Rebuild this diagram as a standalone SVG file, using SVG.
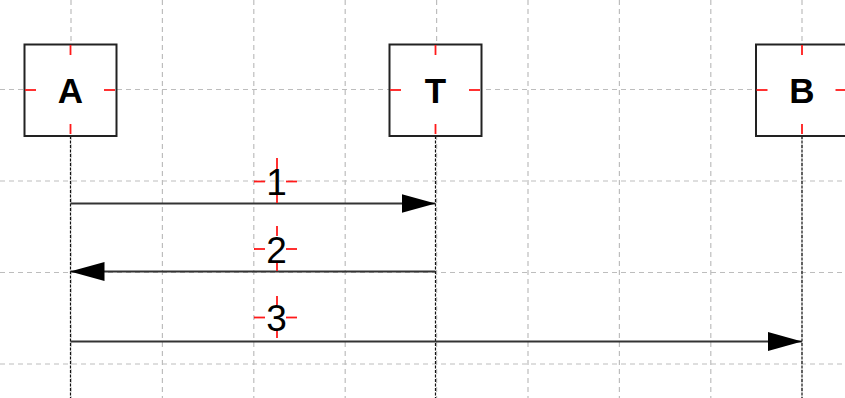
<svg xmlns="http://www.w3.org/2000/svg" width="845" height="398" viewBox="0 0 845 398">
<style>
.grid line{stroke:#bdbdbd;stroke-width:1.2;stroke-dasharray:5 4}
.box{fill:#fff;stroke:#222;stroke-width:2}
.tick{stroke:#ff1a1a;stroke-width:1.8}
.life{stroke:#111;stroke-width:1.2;stroke-dasharray:3 1.5}
.msg{stroke:#333;stroke-width:2;fill:none}
.name{font-family:"Liberation Sans",Arial,sans-serif;font-weight:bold;font-size:35px;text-anchor:middle;fill:#000}
.num{font-family:"Liberation Sans",Arial,sans-serif;font-size:37px;text-anchor:middle;fill:#000}
</style>
<defs>
<marker id="head" markerUnits="userSpaceOnUse" markerWidth="34" markerHeight="19" refX="34" refY="9.5" orient="auto">
<path d="M0,0 L34,9.5 L0,19 Z" fill="#000"/>
</marker>
</defs>
<rect width="845" height="398" fill="#fff"/>
<g class="grid">
<line x1="71" y1="0" x2="71" y2="398"/>
<line x1="162.4" y1="0" x2="162.4" y2="398"/>
<line x1="253.8" y1="0" x2="253.8" y2="398"/>
<line x1="345.2" y1="0" x2="345.2" y2="398"/>
<line x1="436.6" y1="0" x2="436.6" y2="398"/>
<line x1="528" y1="0" x2="528" y2="398"/>
<line x1="619.4" y1="0" x2="619.4" y2="398"/>
<line x1="710.8" y1="0" x2="710.8" y2="398"/>
<line x1="802" y1="0" x2="802" y2="398"/>
<line x1="0" y1="89.5" x2="845" y2="89.5"/>
<line x1="0" y1="181" x2="845" y2="181"/>
<line x1="0" y1="272.5" x2="845" y2="272.5"/>
<line x1="0" y1="364" x2="845" y2="364"/>
</g>
<g id="lifelines">
<line class="life" x1="70.5" y1="136" x2="70.5" y2="398"/>
<line class="life" x1="435.5" y1="136" x2="435.5" y2="398"/>
<line class="life" x1="802" y1="136" x2="802" y2="398"/>
</g>
<g id="nodeA">
<rect class="box" x="24.5" y="44.5" width="92" height="91.5"/>
<line class="tick" x1="70.5" y1="45" x2="70.5" y2="55"/>
<line class="tick" x1="70.5" y1="124" x2="70.5" y2="134"/>
<line class="tick" x1="25" y1="90" x2="36" y2="90"/>
<line class="tick" x1="104" y1="90" x2="115" y2="90"/>
<text class="name" x="70.5" y="102.5">A</text>
</g>
<g id="nodeT">
<rect class="box" x="389.5" y="44.5" width="92" height="91.5"/>
<line class="tick" x1="435.5" y1="45" x2="435.5" y2="55"/>
<line class="tick" x1="435.5" y1="124" x2="435.5" y2="134"/>
<line class="tick" x1="390" y1="90" x2="401" y2="90"/>
<line class="tick" x1="469" y1="90" x2="480" y2="90"/>
<text class="name" x="435.5" y="102.5">T</text>
</g>
<g id="nodeB">
<rect class="box" x="756" y="44.5" width="92" height="91.5"/>
<line class="tick" x1="802" y1="45" x2="802" y2="55"/>
<line class="tick" x1="802" y1="124" x2="802" y2="134"/>
<line class="tick" x1="756.5" y1="90" x2="767.5" y2="90"/>
<line class="tick" x1="835.5" y1="90" x2="846.5" y2="90"/>
<text class="name" x="802" y="102.5">B</text>
</g>
<g id="connectors">
<line class="msg" x1="70.5" y1="203.5" x2="435.5" y2="203.5" marker-end="url(#head)"/>
<line class="msg" x1="435.5" y1="271.5" x2="70.5" y2="271.5" marker-end="url(#head)"/>
<line class="msg" x1="70.5" y1="341.5" x2="802" y2="341.5" marker-end="url(#head)"/>
</g>
<g id="label1">
<line class="tick" x1="277" y1="158" x2="277" y2="169"/>
<line class="tick" x1="277" y1="193" x2="277" y2="203"/>
<line class="tick" x1="254" y1="181.5" x2="265" y2="181.5"/>
<line class="tick" x1="286" y1="181.5" x2="297" y2="181.5"/>
<text class="num" x="276.5" y="194.5">1</text>
</g>
<g id="label2">
<line class="tick" x1="277" y1="226" x2="277" y2="236"/>
<line class="tick" x1="277" y1="261" x2="277" y2="271"/>
<line class="tick" x1="254" y1="249" x2="265" y2="249"/>
<line class="tick" x1="286" y1="249" x2="297" y2="249"/>
<text class="num" x="276.5" y="262.5">2</text>
</g>
<g id="label3">
<line class="tick" x1="277" y1="296" x2="277" y2="305"/>
<line class="tick" x1="277" y1="329" x2="277" y2="338"/>
<line class="tick" x1="254" y1="317.5" x2="265" y2="317.5"/>
<line class="tick" x1="286" y1="317.5" x2="297" y2="317.5"/>
<text class="num" x="276.5" y="330.5">3</text>
</g>
</svg>
